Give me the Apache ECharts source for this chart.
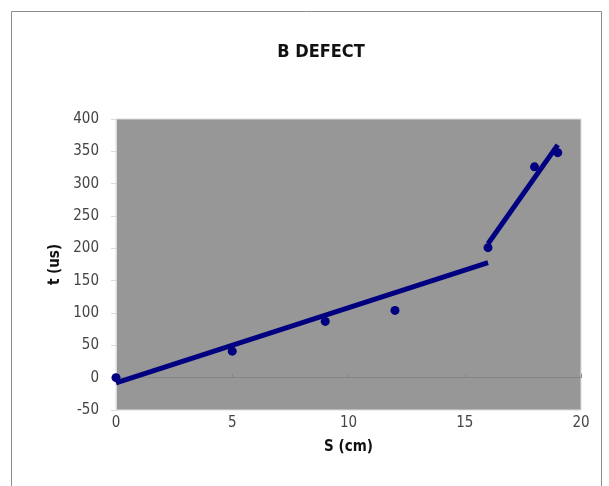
<!DOCTYPE html>
<html><head><meta charset="utf-8">
<script src="https://cdn.jsdelivr.net/npm/echarts@6/dist/echarts.min.js"></script>
<style>html,body{margin:0;padding:0;background:#fff}#c{width:609px;height:486px}</style>
</head><body><div id="c"></div>
<script>
const sValues = [0, 5, 9, 12, 16, 18, 19];
const tValues = [0, 41, 87, 104, 201, 326, 348];
const trendA = [[0, -8], [16, 178]];
const trendB = [[16, 207], [19, 360]];
const xTicks = [0, 5, 10, 15, 20];
const yTicks = [-50, 0, 50, 100, 150, 200, 250, 300, 350, 400];

const font = "'Liberation Sans Narrow','DejaVu Sans Condensed','Liberation Sans',sans-serif";
const chart = echarts.init(document.getElementById('c'));
chart.setOption({
  animation: false,
  title: { text: 'B DEFECT', left: 316, top: 38, textAlign: 'center',
    textStyle: { fontFamily: font, fontSize: 18, fontWeight: 'bold', color: '#111' } },
  graphic: [{ type: 'rect', shape: { x: 11.5, y: 11.5, width: 590, height: 490 },
    style: { fill: 'none', stroke: '#8c8c8c', lineWidth: 1 }, z: -1 }],
  grid: { left: 116, right: 28, top: 119, bottom: 76, show: true,
    backgroundColor: '#979797', borderColor: '#dcdcdc', borderWidth: 1 },
  xAxis: [{
    type: 'value', min: xTicks[0], max: xTicks[xTicks.length - 1], interval: 5,
    name: 'S (cm)', nameLocation: 'middle', nameGap: 30,
    nameTextStyle: { fontFamily: font, fontSize: 15, fontWeight: 'bold', color: '#111' },
    axisLine: { show: false, onZero: false }, axisTick: { show: false }, splitLine: { show: false },
    axisLabel: { fontFamily: font, fontSize: 15, color: '#444', margin: 6 }
  }, {
    type: 'value', min: xTicks[0], max: xTicks[xTicks.length - 1], interval: 5,
    position: 'bottom',
    axisLine: { show: true, onZero: true, lineStyle: { color: '#858585', width: 1 } },
    axisTick: { show: true, inside: true, length: 4, lineStyle: { color: '#858585' } },
    axisLabel: { show: false }, splitLine: { show: false }
  }],
  yAxis: {
    type: 'value', min: yTicks[0], max: yTicks[yTicks.length - 1], interval: 50,
    name: 't (us)', nameLocation: 'middle', nameGap: 46, nameRotate: 90,
    nameTextStyle: { fontFamily: font, fontSize: 15, fontWeight: 'bold', color: '#111' },
    axisLine: { show: true, lineStyle: { color: '#dcdcdc' } },
    axisTick: { show: true, length: 5, lineStyle: { color: '#dcdcdc' } },
    splitLine: { show: false },
    axisLabel: { fontFamily: font, fontSize: 15, color: '#444', margin: 17 }
  },
  series: [
    { type: 'line', data: trendA, showSymbol: false, lineStyle: { color: '#000080', width: 5 }, z: 3 },
    { type: 'line', data: trendB, showSymbol: false, lineStyle: { color: '#000080', width: 5 }, z: 3 },
    { type: 'scatter', data: sValues.map((s, i) => [s, tValues[i]]), symbol: 'circle', symbolSize: 9,
      itemStyle: { color: '#000080', opacity: 1 }, z: 4 }
  ]
});
</script></body></html>
